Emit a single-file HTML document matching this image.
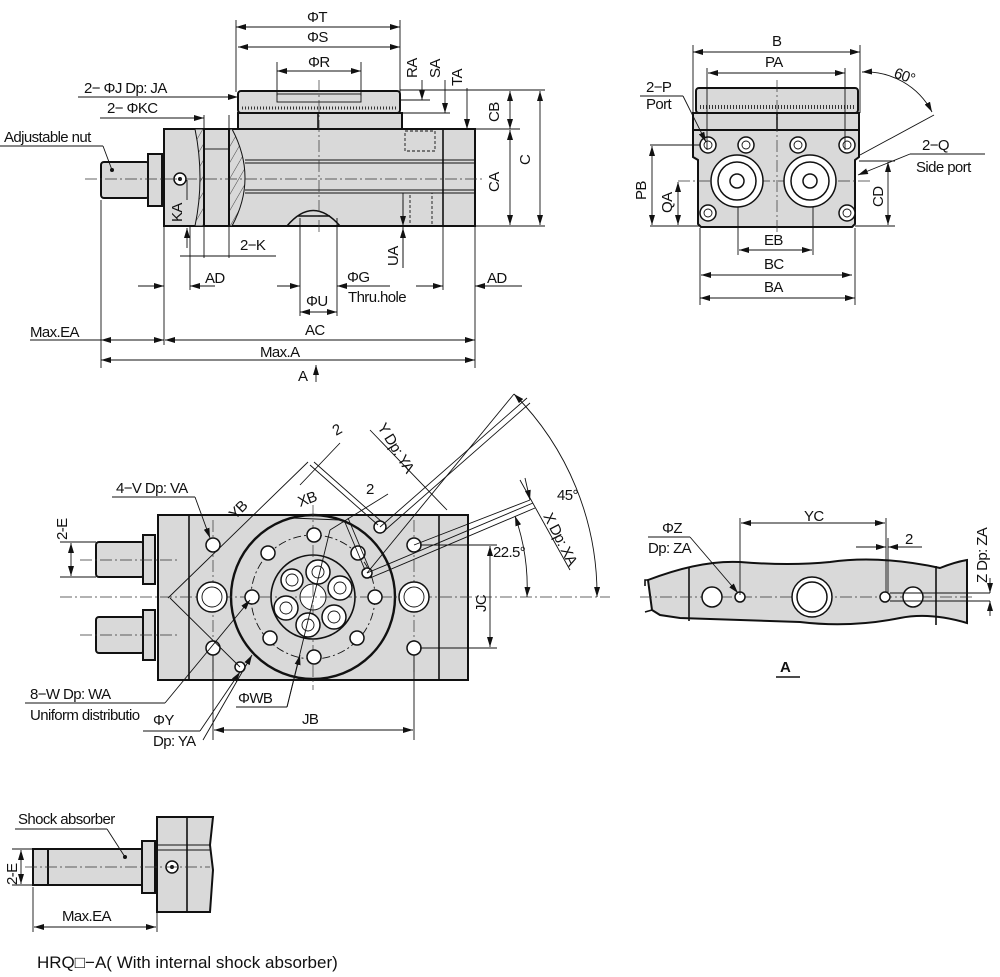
<!DOCTYPE html>
<html><head><meta charset="utf-8"><style>
html,body{margin:0;padding:0;background:#fff}
svg{display:block}
text{font-family:"Liberation Sans Narrow","Liberation Sans",sans-serif;font-size:15px;fill:#111;letter-spacing:-0.6px}
.o{stroke:#111;stroke-width:2;fill:#d9d9d9}
.t{stroke:#111;stroke-width:0.9;fill:none}
.k{stroke:#111;stroke-width:1.6;fill:none}
.c{stroke:#333;stroke-width:0.7;fill:none;stroke-dasharray:12 3 2 3}
.h{stroke:#111;stroke-width:1.5;fill:#fff}
</style></head><body>
<svg width="1000" height="977" viewBox="0 0 1000 977" xmlns="http://www.w3.org/2000/svg">
<defs>
<marker id="a" viewBox="0 0 10 6" refX="10" refY="3" markerWidth="10" markerHeight="6" orient="auto-start-reverse" markerUnits="userSpaceOnUse"><path d="M0,0 L10,3 L0,6 z" fill="#111"/></marker>
<pattern id="hat" width="8" height="8" patternUnits="userSpaceOnUse" patternTransform="rotate(30)"><rect width="8" height="8" fill="#d9d9d9"/><line x1="0" y1="0" x2="0" y2="8" stroke="#333" stroke-width="0.9"/></pattern>
</defs>

<!-- ============ TOP LEFT VIEW ============ -->
<g>
<rect class="o" x="238" y="91" width="162" height="22" rx="3"/>
<rect class="t" x="277" y="94" width="84" height="8"/>
<line x1="242" y1="108" x2="398" y2="108" stroke="#333" stroke-width="3" stroke-dasharray="1 2"/>
<rect class="o" x="238" y="113" width="164" height="16"/>
<line class="k" x1="318" y1="113" x2="318" y2="129"/>
<rect class="o" x="164" y="129" width="311" height="97"/>
<path d="M195,129 L232,129 Q258,178 232,226 L195,226 Q205,178 195,129z" fill="url(#hat)" stroke="#111" stroke-width="1"/>
<rect class="o" x="204" y="129" width="25" height="97" style="fill:#d9d9d9"/>
<rect class="t" x="204" y="129" width="25" height="20"/>
<line class="t" x1="245" y1="160" x2="475" y2="160"/><line class="t" x1="245" y1="163" x2="475" y2="163"/>
<line class="t" x1="245" y1="190" x2="475" y2="190"/><line class="t" x1="245" y1="193" x2="475" y2="193"/>
<line class="k" x1="443" y1="129" x2="443" y2="226"/>
<rect class="t" x="405" y="131" width="30" height="20" stroke-dasharray="3 2"/>
<rect class="t" x="410" y="193" width="22" height="33" stroke-dasharray="3 2"/>
<path class="k" d="M287,226 Q313,195 340,226"/>
<line class="k" x1="298" y1="216" x2="330" y2="216"/>
<rect class="o" x="101" y="162" width="48" height="36" rx="3"/>
<rect class="o" x="148" y="154" width="14" height="52"/>
<circle class="h" cx="180" cy="179" r="6"/><circle cx="180" cy="179" r="2" fill="#111"/>
<circle cx="112" cy="170" r="2" fill="#111"/>
<line class="c" x1="85" y1="179" x2="485" y2="179"/>
<line class="c" x1="319" y1="80" x2="319" y2="232"/>
<line class="t" x1="236" y1="20" x2="236" y2="92"/><line class="t" x1="400" y1="20" x2="400" y2="92"/>
<line class="t" x1="236" y1="27" x2="400" y2="27" marker-start="url(#a)" marker-end="url(#a)"/>
<text x="307" y="22">ΦT</text>
<line class="t" x1="238" y1="47" x2="400" y2="47" marker-start="url(#a)" marker-end="url(#a)"/>
<text x="307" y="42">ΦS</text>
<line class="t" x1="277" y1="62" x2="277" y2="96"/><line class="t" x1="361" y1="62" x2="361" y2="96"/>
<line class="t" x1="277" y1="71" x2="361" y2="71" marker-start="url(#a)" marker-end="url(#a)"/>
<text x="308" y="67">ΦR</text>
<text transform="translate(417,78) rotate(-90)">RA</text>
<text transform="translate(440,78) rotate(-90)">SA</text>
<text transform="translate(462,86) rotate(-90)">TA</text>
<line class="t" x1="422" y1="80" x2="422" y2="100" marker-end="url(#a)"/>
<line class="t" x1="445" y1="80" x2="445" y2="113" marker-end="url(#a)"/>
<line class="t" x1="467" y1="88" x2="467" y2="129" marker-end="url(#a)"/>
<line class="t" x1="400" y1="100" x2="430" y2="100"/>
<line class="t" x1="402" y1="113" x2="450" y2="113"/>
<line class="t" x1="400" y1="90" x2="545" y2="90"/>
<line class="t" x1="475" y1="129" x2="520" y2="129"/>
<line class="t" x1="475" y1="226" x2="545" y2="226"/>
<line class="t" x1="510" y1="91" x2="510" y2="129" marker-start="url(#a)" marker-end="url(#a)"/>
<line class="t" x1="510" y1="130" x2="510" y2="225" marker-start="url(#a)" marker-end="url(#a)"/>
<line class="t" x1="540" y1="91" x2="540" y2="225" marker-start="url(#a)" marker-end="url(#a)"/>
<text transform="translate(499,122) rotate(-90)">CB</text>
<text transform="translate(499,192) rotate(-90)">CA</text>
<text transform="translate(530,165) rotate(-90)">C</text>
<text x="84" y="93">2− ΦJ Dp: JA</text>
<line class="t" x1="78" y1="97" x2="238" y2="97" marker-end="url(#a)"/>
<text x="107" y="113">2− ΦKC</text>
<line class="t" x1="100" y1="118" x2="204" y2="118" marker-end="url(#a)"/>
<line class="t" x1="204" y1="115" x2="204" y2="258"/><line class="t" x1="229" y1="115" x2="229" y2="258"/>
<text x="4" y="142">Adjustable nut</text>
<line class="t" x1="0" y1="146" x2="103" y2="146"/>
<line class="t" x1="103" y1="146" x2="112" y2="170"/>
<text transform="translate(182,222) rotate(-90)">KA</text>
<line class="t" x1="187" y1="228" x2="187" y2="248" marker-start="url(#a)"/>
<line class="t" x1="187" y1="180" x2="187" y2="200"/>
<line class="t" x1="190" y1="226" x2="190" y2="290"/>
<line class="t" x1="180" y1="256" x2="276" y2="256"/>
<text x="240" y="250">2−K</text>
<line class="t" x1="138" y1="286" x2="164" y2="286" marker-end="url(#a)"/>
<line class="t" x1="215" y1="286" x2="190" y2="286" marker-end="url(#a)"/>
<text x="205" y="283">AD</text>
<line class="t" x1="164" y1="226" x2="164" y2="345"/>
<line class="t" x1="101" y1="200" x2="101" y2="368"/>
<line class="t" x1="475" y1="226" x2="475" y2="368"/>
<line class="t" x1="443" y1="226" x2="443" y2="290"/>
<line class="t" x1="416" y1="286" x2="443" y2="286" marker-end="url(#a)"/>
<line class="t" x1="522" y1="286" x2="475" y2="286" marker-end="url(#a)"/>
<text x="487" y="283">AD</text>
<line class="t" x1="300" y1="218" x2="300" y2="316"/><line class="t" x1="337" y1="218" x2="337" y2="316"/>
<line class="t" x1="277" y1="286" x2="300" y2="286" marker-end="url(#a)"/>
<line class="t" x1="390" y1="286" x2="337" y2="286" marker-end="url(#a)"/>
<text x="347" y="282">ΦG</text>
<text x="348" y="302">Thru.hole</text>
<text x="306" y="306">ΦU</text>
<line class="t" x1="300" y1="312" x2="337" y2="312" marker-start="url(#a)" marker-end="url(#a)"/>
<line class="t" x1="403" y1="193" x2="403" y2="268"/>
<line class="t" x1="403" y1="200" x2="403" y2="226" marker-end="url(#a)"/>
<line class="t" x1="403" y1="268" x2="403" y2="228" marker-end="url(#a)"/>
<text transform="translate(398,266) rotate(-90)">UA</text>
<text x="30" y="337">Max.EA</text>
<line class="t" x1="30" y1="340" x2="102" y2="340"/>
<line class="t" x1="101" y1="340" x2="164" y2="340" marker-start="url(#a)" marker-end="url(#a)"/>
<line class="t" x1="165" y1="340" x2="475" y2="340" marker-start="url(#a)" marker-end="url(#a)"/>
<text x="305" y="335">AC</text>
<line class="t" x1="101" y1="360" x2="475" y2="360" marker-start="url(#a)" marker-end="url(#a)"/>
<text x="260" y="357">Max.A</text>
<text x="298" y="381">A</text>
<line class="t" x1="316" y1="382" x2="316" y2="365" marker-end="url(#a)"/>
</g>

<!-- ============ TOP RIGHT VIEW ============ -->
<g>
<rect class="o" x="696" y="88" width="162" height="25" rx="3"/>
<line x1="700" y1="107" x2="855" y2="107" stroke="#333" stroke-width="4" stroke-dasharray="1 2"/>
<rect class="o" x="693" y="113" width="166" height="17"/>
<line class="k" x1="777" y1="113" x2="777" y2="130"/>
<path class="o" d="M693,130 L859,130 L859,157 L855,160 L855,224 L852,227 L701,227 L698,224 L698,160 L693,157 Z"/>
<line class="c" x1="777" y1="80" x2="777" y2="232"/>
<line class="c" x1="678" y1="181" x2="870" y2="181"/>
<g class="h">
<circle cx="708" cy="145" r="8"/><circle cx="746" cy="145" r="8"/><circle cx="798" cy="145" r="8"/><circle cx="847" cy="145" r="8"/>
<circle cx="708" cy="213" r="8"/><circle cx="847" cy="213" r="8"/>
<circle cx="737" cy="181" r="26"/><circle cx="737" cy="181" r="19"/><circle cx="737" cy="181" r="7"/>
<circle cx="810" cy="181" r="26"/><circle cx="810" cy="181" r="19"/><circle cx="810" cy="181" r="7"/>
</g>
<g class="t"><circle cx="708" cy="145" r="4"/><circle cx="746" cy="145" r="4"/><circle cx="798" cy="145" r="4"/><circle cx="847" cy="145" r="4"/><circle cx="708" cy="213" r="4"/><circle cx="847" cy="213" r="4"/></g>
<line class="t" x1="693" y1="45" x2="693" y2="113"/><line class="t" x1="860" y1="45" x2="860" y2="113"/>
<line class="t" x1="693" y1="52" x2="860" y2="52" marker-start="url(#a)" marker-end="url(#a)"/>
<text x="772" y="46">B</text>
<line class="t" x1="707" y1="68" x2="707" y2="150"/><line class="t" x1="845" y1="68" x2="845" y2="150"/>
<line class="t" x1="708" y1="73" x2="845" y2="73" marker-start="url(#a)" marker-end="url(#a)"/>
<text x="765" y="67">PA</text>
<path class="t" d="M862,72 A75,75 0 0 1 932,112" marker-start="url(#a)" marker-end="url(#a)"/>
<text x="893" y="77" transform="rotate(20,893,77)">60°</text>
<line class="t" x1="934" y1="115" x2="860" y2="155"/>
<text x="646" y="92">2−P</text><text x="646" y="109">Port</text>
<line class="t" x1="640" y1="96" x2="683" y2="96"/>
<line class="t" x1="683" y1="96" x2="706" y2="142" marker-end="url(#a)"/>
<text x="922" y="150">2−Q</text><text x="916" y="172">Side port</text>
<line class="t" x1="910" y1="154" x2="985" y2="154"/>
<line class="t" x1="910" y1="154" x2="858" y2="175" marker-end="url(#a)"/>
<line class="t" x1="650" y1="145" x2="700" y2="145"/>
<line class="t" x1="650" y1="226" x2="700" y2="226"/>
<line class="t" x1="652" y1="146" x2="652" y2="225" marker-start="url(#a)" marker-end="url(#a)"/>
<text transform="translate(646,200) rotate(-90)">PB</text>
<line class="t" x1="678" y1="182" x2="678" y2="225" marker-start="url(#a)" marker-end="url(#a)"/>
<text transform="translate(672,213) rotate(-90)">QA</text>
<line class="t" x1="859" y1="161" x2="895" y2="161"/>
<line class="t" x1="855" y1="226" x2="895" y2="226"/>
<line class="t" x1="888" y1="162" x2="888" y2="225" marker-start="url(#a)" marker-end="url(#a)"/>
<text transform="translate(883,207) rotate(-90)">CD</text>
<line class="t" x1="738" y1="207" x2="738" y2="255"/><line class="t" x1="813" y1="207" x2="813" y2="255"/>
<line class="t" x1="739" y1="250" x2="812" y2="250" marker-start="url(#a)" marker-end="url(#a)"/>
<text x="764" y="245">EB</text>
<line class="t" x1="700" y1="228" x2="700" y2="305"/>
<line class="t" x1="855" y1="228" x2="855" y2="305"/>
<line class="t" x1="701" y1="275" x2="852" y2="275" marker-start="url(#a)" marker-end="url(#a)"/>
<text x="764" y="269">BC</text>
<line class="t" x1="700" y1="298" x2="855" y2="298" marker-start="url(#a)" marker-end="url(#a)"/>
<text x="764" y="292">BA</text>
</g>

<!-- ============ MIDDLE VIEW ============ -->
<g>
<rect class="o" x="158" y="515" width="310" height="165"/>
<line class="k" x1="189" y1="515" x2="189" y2="680"/>
<line class="k" x1="439" y1="515" x2="439" y2="680"/>
<rect class="o" x="96" y="542" width="48" height="35" rx="3"/>
<rect class="o" x="143" y="535" width="12" height="49"/>
<rect class="o" x="96" y="617" width="48" height="36" rx="3"/>
<rect class="o" x="143" y="610" width="12" height="50"/>
<circle cx="313" cy="597" r="82" fill="#d9d9d9" stroke="#111" stroke-width="2.4"/>
<circle class="t" cx="313" cy="597" r="62" stroke-dasharray="8 3 2 3"/>
<circle class="k" cx="313" cy="597" r="42"/>
<circle cx="313" cy="597" r="13" fill="#fff" stroke="#111"/>
<line class="c" x1="60" y1="597" x2="610" y2="597"/>
<line class="c" x1="313" y1="505" x2="313" y2="690"/>
<line class="c" x1="213" y1="520" x2="213" y2="675"/>
<line class="c" x1="414" y1="520" x2="414" y2="675"/>
<line class="c" x1="80" y1="560" x2="180" y2="560"/>
<line class="c" x1="80" y1="635" x2="180" y2="635"/>
<g class="h">
<circle cx="318" cy="572" r="12"/><circle cx="340" cy="588" r="12"/><circle cx="334" cy="617" r="12"/>
<circle cx="308" cy="625" r="12"/><circle cx="286" cy="608" r="12"/><circle cx="292" cy="580" r="11"/>
<circle cx="314" cy="535" r="7"/><circle cx="358" cy="553" r="7"/><circle cx="375" cy="597" r="7"/><circle cx="357" cy="638" r="7"/>
<circle cx="314" cy="657" r="7"/><circle cx="270" cy="638" r="7"/><circle cx="252" cy="597" r="7"/><circle cx="268" cy="553" r="7"/>
<circle cx="213" cy="545" r="7"/><circle cx="414" cy="545" r="7"/><circle cx="213" cy="648" r="7"/><circle cx="414" cy="648" r="7"/>
<circle cx="212" cy="597" r="15"/><circle cx="414" cy="597" r="15"/>
<circle cx="380" cy="527" r="6"/><circle cx="367" cy="573" r="5"/><circle cx="240" cy="667" r="5"/>
</g>
<g class="t"><circle cx="212" cy="597" r="10"/><circle cx="414" cy="597" r="10"/>
<circle cx="318" cy="572" r="6"/><circle cx="340" cy="588" r="6"/><circle cx="334" cy="617" r="6"/><circle cx="308" cy="625" r="6"/><circle cx="286" cy="608" r="6"/><circle cx="292" cy="580" r="6"/></g>
<line class="t" x1="367" y1="573" x2="514" y2="394"/>
<line class="t" x1="380" y1="527" x2="527" y2="398"/>
<line class="t" x1="383" y1="532" x2="530" y2="403"/>
<path class="t" d="M514,394 A284,284 0 0 1 597,597" marker-start="url(#a)" marker-end="url(#a)"/>
<text x="557" y="500">45°</text>
<line class="t" x1="367" y1="573" x2="533" y2="503"/>
<line class="t" x1="370" y1="578" x2="535" y2="508"/>
<line class="t" x1="414" y1="545" x2="530" y2="500"/>
<path class="t" d="M515,516 A214,214 0 0 1 527,597" marker-start="url(#a)" marker-end="url(#a)"/>
<text x="493" y="557">22.5°</text>
<line class="t" x1="520" y1="480" x2="570" y2="570"/>
<line class="t" x1="525" y1="478" x2="530" y2="500" marker-end="url(#a)"/>
<text transform="translate(543,516) rotate(63)">X Dp: XA</text>
<line class="t" x1="370" y1="430" x2="447" y2="510"/>
<text transform="translate(377,427) rotate(58)">Y Dp: YA</text>
<line class="t" x1="310" y1="465" x2="378" y2="525"/>
<line class="t" x1="314" y1="462" x2="382" y2="522"/>
<line class="t" x1="340" y1="443" x2="300" y2="485"/>
<text transform="translate(336,436) rotate(-30)">2</text>
<line class="t" x1="344" y1="520" x2="365" y2="570"/>
<line class="t" x1="348" y1="518" x2="369" y2="568"/>
<line class="t" x1="388" y1="494" x2="330" y2="530"/>
<text x="366" y="494">2</text>
<line class="t" x1="308" y1="462" x2="168" y2="598"/>
<line class="t" x1="170" y1="598" x2="240" y2="667"/>
<text transform="translate(235,520) rotate(-45)">YB</text>
<line class="t" x1="292" y1="518" x2="340" y2="520"/>
<text transform="translate(300,507) rotate(-20)">XB</text>
<text x="116" y="493">4−V Dp: VA</text>
<line class="t" x1="112" y1="497" x2="195" y2="497"/>
<line class="t" x1="195" y1="497" x2="210" y2="538" marker-end="url(#a)"/>
<line class="t" x1="60" y1="542" x2="96" y2="542"/><line class="t" x1="60" y1="577" x2="96" y2="577"/>
<line class="t" x1="71" y1="543" x2="71" y2="576" marker-start="url(#a)" marker-end="url(#a)"/>
<text transform="translate(67,540) rotate(-90)">2-E</text>
<line class="t" x1="420" y1="545" x2="497" y2="545"/><line class="t" x1="420" y1="648" x2="497" y2="648"/>
<line class="t" x1="490" y1="546" x2="490" y2="647" marker-start="url(#a)" marker-end="url(#a)"/>
<text transform="translate(486,612) rotate(-90)">JC</text>
<line class="t" x1="213" y1="655" x2="213" y2="740"/><line class="t" x1="414" y1="655" x2="414" y2="740"/>
<line class="t" x1="214" y1="730" x2="413" y2="730" marker-start="url(#a)" marker-end="url(#a)"/>
<text x="302" y="724">JB</text>
<text x="30" y="699">8−W Dp: WA</text>
<text x="30" y="720">Uniform distributio</text>
<line class="t" x1="25" y1="703" x2="165" y2="703"/>
<line class="t" x1="165" y1="703" x2="250" y2="600" marker-end="url(#a)"/>
<text x="153" y="725">ΦY</text><text x="153" y="746">Dp: YA</text>
<line class="t" x1="143" y1="731" x2="200" y2="731"/>
<line class="t" x1="200" y1="731" x2="240" y2="672" marker-end="url(#a)"/>
<line class="t" x1="203" y1="740" x2="252" y2="655" marker-end="url(#a)"/>
<text x="238" y="703">ΦWB</text>
<line class="t" x1="236" y1="707" x2="287" y2="707"/>
<line class="t" x1="287" y1="707" x2="300" y2="655" marker-end="url(#a)"/>
<line class="t" x1="287" y1="707" x2="330" y2="530"/>
</g>

<!-- ============ VIEW A ============ -->
<g>
<path class="o" d="M648,580 Q700,560 740,562 Q790,566 830,562 Q880,555 940,568 Q955,562 967,560 L967,623 Q930,612 900,618 Q850,628 800,622 Q740,620 680,618 L660,615 L652,610 Z"/>
<line class="k" x1="689" y1="568" x2="689" y2="621"/>
<line class="k" x1="936" y1="566" x2="936" y2="625"/>
<path class="k" d="M648,580 L645,580 L645,586 M652,610 L645,612"/>
<line class="c" x1="640" y1="597" x2="975" y2="597"/>
<g class="h"><circle cx="712" cy="597" r="10"/><circle cx="740" cy="597" r="5"/><circle cx="812" cy="597" r="20"/><circle cx="812" cy="597" r="15"/><circle cx="885" cy="597" r="5"/><circle cx="913" cy="597" r="10"/></g>
<line class="t" x1="740" y1="518" x2="740" y2="595"/>
<line class="t" x1="886" y1="518" x2="886" y2="592"/>
<line class="t" x1="888" y1="538" x2="888" y2="592"/>
<line class="t" x1="741" y1="523" x2="885" y2="523" marker-start="url(#a)" marker-end="url(#a)"/>
<text x="804" y="521">YC</text>
<line class="t" x1="856" y1="547" x2="886" y2="547" marker-end="url(#a)"/>
<line class="t" x1="922" y1="547" x2="888" y2="547" marker-end="url(#a)"/>
<text x="905" y="544">2</text>
<text x="662" y="533">ΦZ</text><text x="648" y="553">Dp: ZA</text>
<line class="t" x1="648" y1="537" x2="690" y2="537"/>
<line class="t" x1="690" y1="537" x2="738" y2="593" marker-end="url(#a)"/>
<text transform="translate(987,583) rotate(-90)">Z Dp: ZA</text>
<line class="t" x1="890" y1="593" x2="990" y2="593"/><line class="t" x1="890" y1="601" x2="990" y2="601"/>
<line class="t" x1="990" y1="578" x2="990" y2="593" marker-end="url(#a)"/>
<line class="t" x1="990" y1="616" x2="990" y2="601" marker-end="url(#a)"/>
<text x="780" y="672" style="font-weight:bold">A</text>
<line x1="776" y1="677" x2="800" y2="677" stroke="#111" stroke-width="1.5"/>
</g>

<!-- ============ BOTTOM LEFT ============ -->
<g>
<path class="o" d="M157,817 L213,817 L210,845 L213,870 L210,912 L157,912 Z"/>
<line class="k" x1="187" y1="817" x2="187" y2="912"/>
<line class="t" x1="157" y1="845" x2="211" y2="845"/><line class="t" x1="157" y1="850" x2="211" y2="850"/>
<rect class="o" x="33" y="849" width="15" height="36"/>
<rect class="o" x="48" y="849" width="95" height="36"/>
<rect class="o" x="142" y="841" width="13" height="52"/>
<circle class="h" cx="172" cy="867" r="6"/><circle cx="172" cy="867" r="2" fill="#111"/>
<circle cx="125" cy="857" r="2" fill="#111"/>
<line class="c" x1="25" y1="867" x2="210" y2="867"/>
<text x="18" y="824">Shock absorber</text>
<line class="t" x1="15" y1="829" x2="107" y2="829"/>
<line class="t" x1="107" y1="829" x2="125" y2="857"/>
<line class="t" x1="12" y1="849" x2="33" y2="849"/><line class="t" x1="12" y1="885" x2="33" y2="885"/>
<line class="t" x1="21" y1="850" x2="21" y2="884" marker-start="url(#a)" marker-end="url(#a)"/>
<text transform="translate(17,885) rotate(-90)">2-E</text>
<line class="t" x1="33" y1="887" x2="33" y2="932"/><line class="t" x1="157" y1="912" x2="157" y2="932"/>
<line class="t" x1="34" y1="927" x2="156" y2="927" marker-start="url(#a)" marker-end="url(#a)"/>
<text x="62" y="921">Max.EA</text>
<text x="37" y="968" style="font-family:'Liberation Sans',sans-serif;font-size:17px;letter-spacing:0">HRQ□−A( With internal shock absorber)</text>
</g>
</svg>
</body></html>
